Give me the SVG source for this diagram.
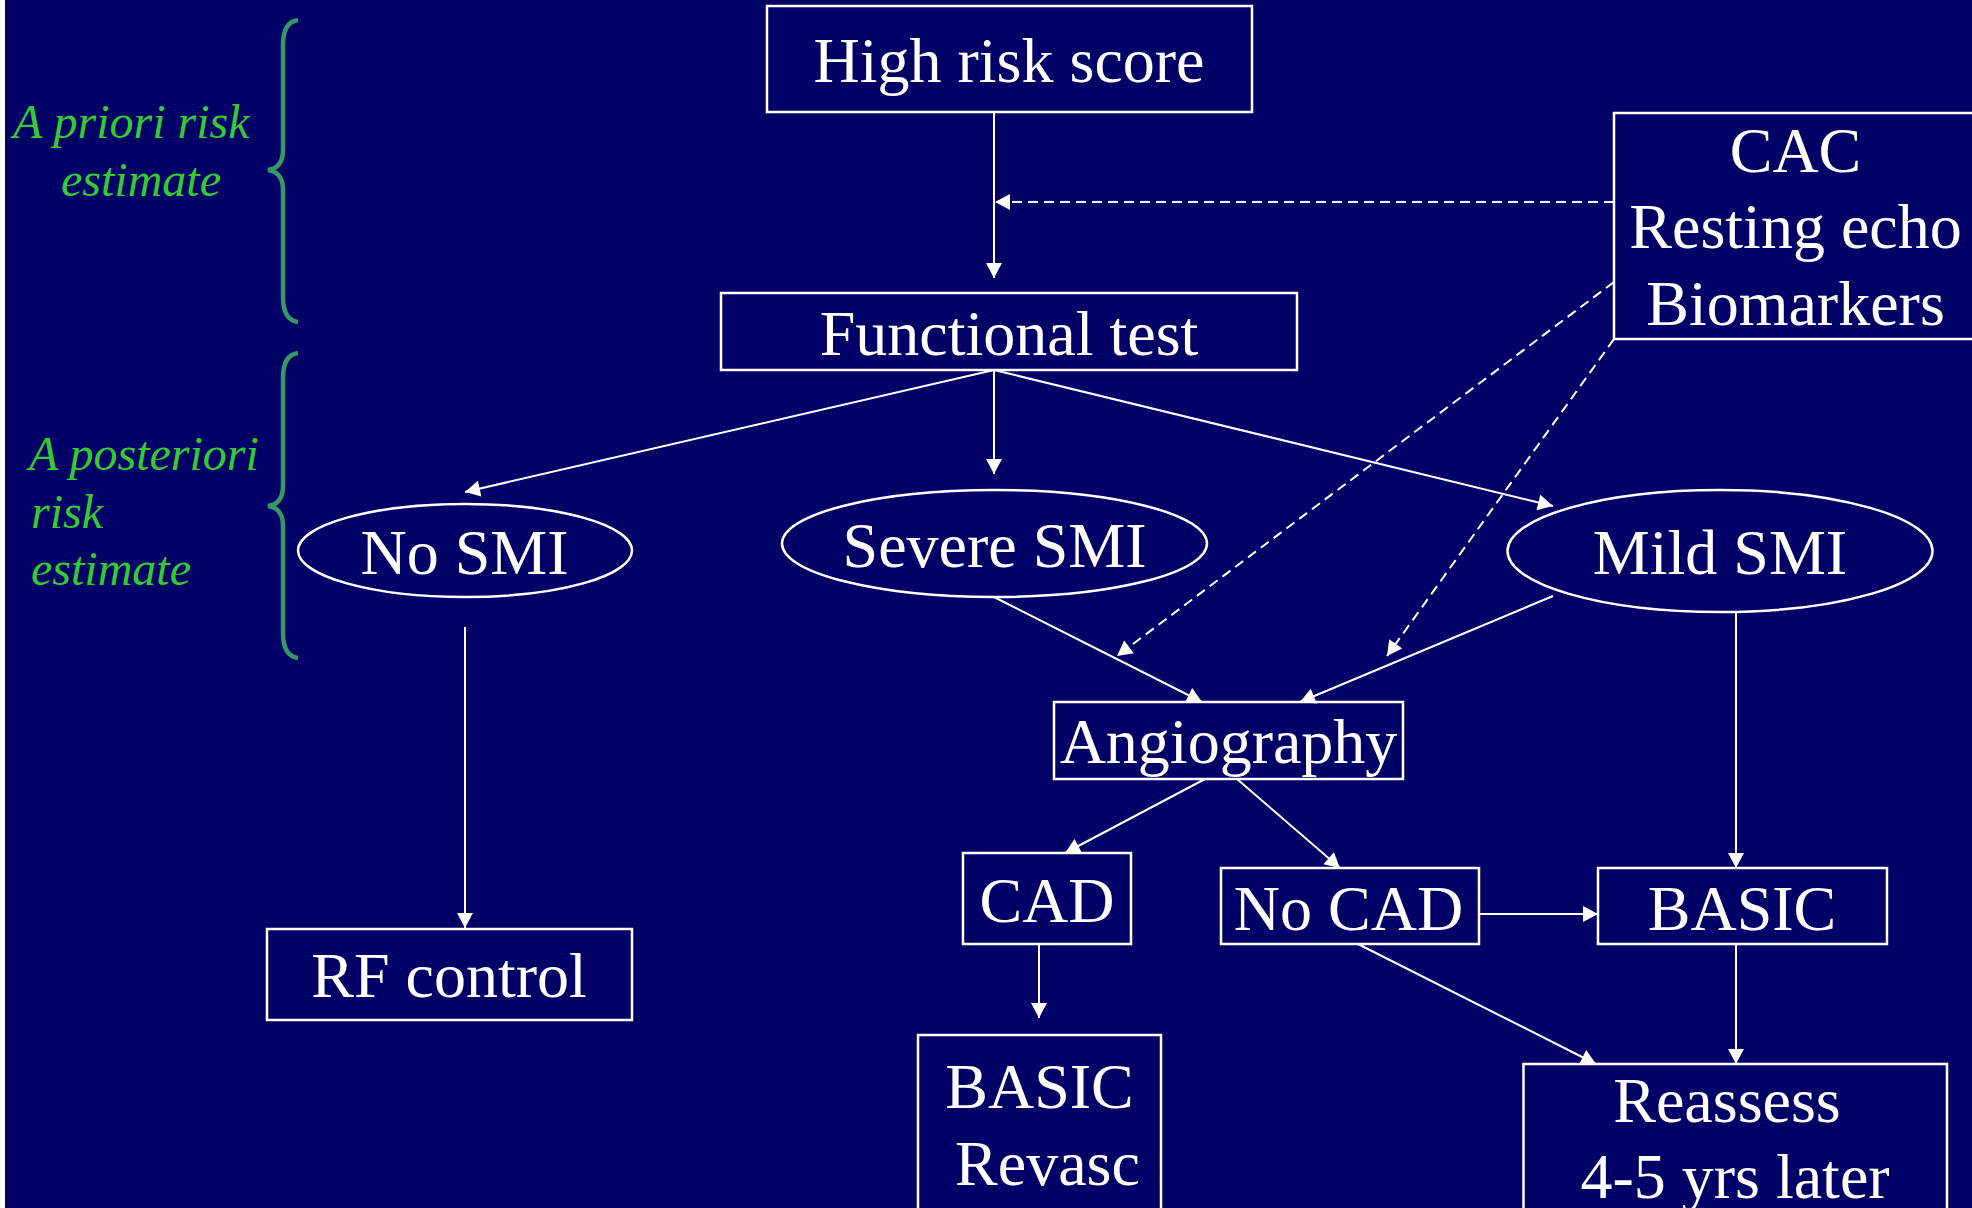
<svg xmlns="http://www.w3.org/2000/svg" width="1972" height="1208" viewBox="0 0 1972 1208">
<defs>
<style>
.bg{fill:#000066}
.box{fill:none;stroke:#ffffff;stroke-width:2.5}
.lbl{font-family:"Liberation Serif","Times New Roman",serif;font-size:64px;fill:#ffffff;text-anchor:middle}
.side{font-family:"Liberation Serif","Times New Roman",serif;font-size:48px;font-style:italic;fill:#33cc33}
.brace{fill:none;stroke:#339966;stroke-width:4.5}
.edge{fill:none;stroke:#ffffff;stroke-width:2}
.dash{fill:none;stroke:#ffffff;stroke-width:2;stroke-dasharray:10 6}
</style>
<marker id="ah" markerUnits="userSpaceOnUse" markerWidth="18" markerHeight="18" viewBox="0 -9 16 18" refX="15" refY="0" orient="auto">
<path d="M0,-8 L15,0 L0,8 z" fill="#ffffff"/>
</marker>
</defs>
<rect x="0" y="0" width="1972" height="1208" fill="#ffffff"/>
<rect class="bg" x="5" y="0" width="1967" height="1208"/>

<g id="labels">
<path class="brace" d="M298,20 Q283,22 283,45 L283,150 Q283,168 268,170 Q283,172 283,190 L283,297 Q283,320 298,322"/>
<path class="brace" d="M298,353 Q283,355 283,378 L283,486 Q283,504 268,506 Q283,508 283,526 L283,633 Q283,656 298,658"/>
<text class="side" x="13" y="138">A priori risk</text>
<text class="side" x="61" y="196">estimate</text>
<text class="side" x="29" y="470">A posteriori</text>
<text class="side" x="31" y="528">risk</text>
<text class="side" x="31" y="585">estimate</text>
</g>

<g id="connectors">
<line class="edge" x1="994" y1="112" x2="994" y2="278" marker-end="url(#ah)"/>
<line class="dash" x1="1614" y1="202" x2="995" y2="202" marker-end="url(#ah)"/>
<line class="edge" x1="994" y1="370" x2="465" y2="492" marker-end="url(#ah)"/>
<line class="edge" x1="994" y1="370" x2="994" y2="474" marker-end="url(#ah)"/>
<line class="edge" x1="994" y1="370" x2="1553" y2="506" marker-end="url(#ah)"/>
<line class="edge" x1="465" y1="627" x2="465" y2="928" marker-end="url(#ah)"/>
<line class="edge" x1="994" y1="597" x2="1202" y2="702" marker-end="url(#ah)"/>
<line class="edge" x1="1553" y1="596" x2="1300" y2="702" marker-end="url(#ah)"/>
<line class="dash" x1="1614" y1="282" x2="1117" y2="656" marker-end="url(#ah)"/>
<line class="dash" x1="1614" y1="339" x2="1387" y2="656" marker-end="url(#ah)"/>
<line class="edge" x1="1205" y1="779" x2="1065" y2="853" marker-end="url(#ah)"/>
<line class="edge" x1="1237" y1="779" x2="1340" y2="868" marker-end="url(#ah)"/>
<line class="edge" x1="1736" y1="612" x2="1736" y2="868" marker-end="url(#ah)"/>
<line class="edge" x1="1479" y1="914" x2="1598" y2="914" marker-end="url(#ah)"/>
<line class="edge" x1="1039" y1="944" x2="1039" y2="1018" marker-end="url(#ah)"/>
<line class="edge" x1="1736" y1="944" x2="1736" y2="1064" marker-end="url(#ah)"/>
<line class="edge" x1="1358" y1="944" x2="1596" y2="1064" marker-end="url(#ah)"/>
</g>

<g id="high-risk-score">
<rect class="box" x="767" y="6" width="485" height="106"/>
<text class="lbl" x="1009" y="82">High risk score</text>
</g>
<g id="functional-test">
<rect class="box" x="721" y="293" width="576" height="77"/>
<text class="lbl" x="1009" y="355">Functional test</text>
</g>
<g id="cac">
<rect class="box" x="1614" y="113" width="363" height="226"/>
<text class="lbl" x="1795.5" y="172">CAC</text>
<text class="lbl" x="1795.5" y="248">Resting echo</text>
<text class="lbl" x="1795.5" y="325">Biomarkers</text>
</g>
<g id="no-smi">
<ellipse class="box" cx="465" cy="550.5" rx="167" ry="46.5"/>
<text class="lbl" x="464.5" y="574">No SMI</text>
</g>
<g id="severe-smi">
<ellipse class="box" cx="994.5" cy="543.5" rx="212.5" ry="53.5"/>
<text class="lbl" x="994.5" y="567">Severe SMI</text>
</g>
<g id="mild-smi">
<ellipse class="box" cx="1720" cy="551" rx="212.5" ry="61"/>
<text class="lbl" x="1720" y="574">Mild SMI</text>
</g>
<g id="angiography">
<rect class="box" x="1054" y="702" width="349" height="77"/>
<text class="lbl" x="1228.5" y="763">Angiography</text>
</g>
<g id="cad">
<rect class="box" x="963" y="853" width="168" height="91"/>
<text class="lbl" x="1047" y="922">CAD</text>
</g>
<g id="no-cad">
<rect class="box" x="1221" y="868" width="258" height="76"/>
<text class="lbl" x="1348.5" y="929.5">No CAD</text>
</g>
<g id="basic">
<rect class="box" x="1598" y="868" width="289" height="76"/>
<text class="lbl" x="1742" y="929.5">BASIC</text>
</g>
<g id="rf-control">
<rect class="box" x="267" y="929" width="365" height="91"/>
<text class="lbl" x="449" y="997">RF control</text>
</g>
<g id="basic-revasc">
<rect class="box" x="918" y="1035" width="243" height="190"/>
<text class="lbl" x="1039.5" y="1108">BASIC</text>
<text class="lbl" x="1047.5" y="1185">Revasc</text>
</g>
<g id="reassess">
<rect class="box" x="1523.5" y="1064" width="423.5" height="160"/>
<text class="lbl" x="1727" y="1121.5">Reassess</text>
<text class="lbl" x="1735" y="1198">4-5 yrs later</text>
</g>
</svg>
